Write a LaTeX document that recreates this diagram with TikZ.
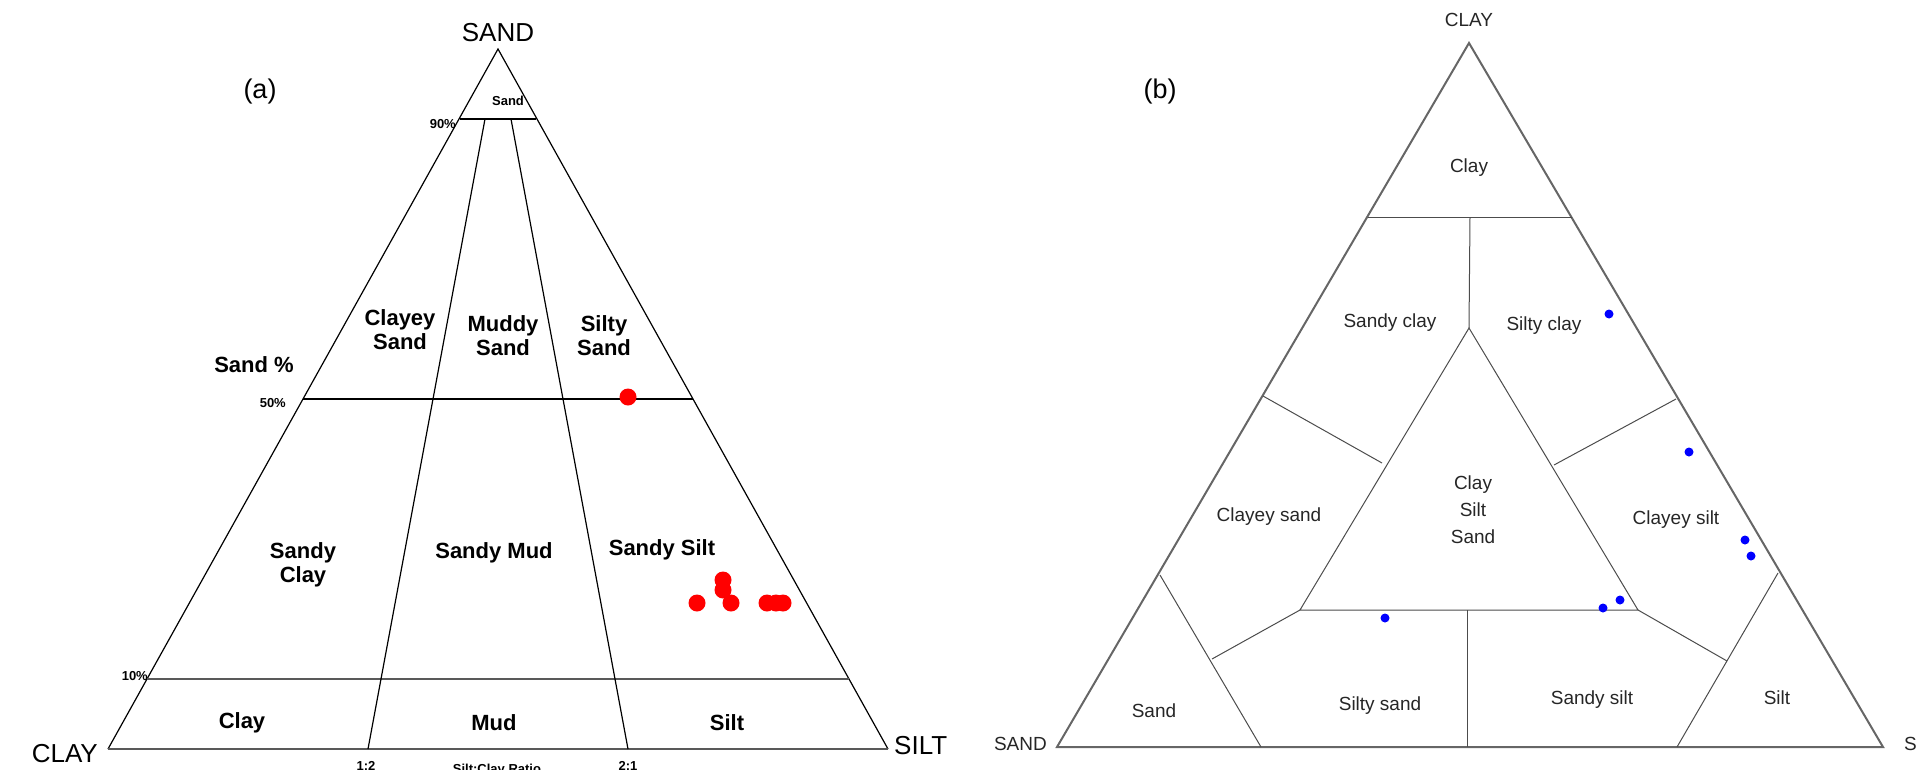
\documentclass[tikz,border=0pt]{standalone}
\usepackage{fontspec}
\setmainfont{Liberation Sans}
\begin{document}
\begin{tikzpicture}[x=1pt,y=-1pt,
  lab/.style={font=\fontsize{22}{24}\selectfont\bfseries,align=center,inner sep=0},
  small/.style={font=\fontsize{13}{14}\selectfont\bfseries,inner sep=0},
  big/.style={font=\fontsize{26}{28}\selectfont,inner sep=0},
  rlab/.style={font=\fontsize{19}{22}\selectfont,align=center,inner sep=0,text=black!85},
  thin/.style={line width=1pt,black!70},
  outer/.style={line width=2pt,black!60},
  rdot/.style={fill=red,draw=none},
  bdot/.style={fill=blue,draw=none}]
\useasboundingbox (0,0) rectangle (1923,769);
\clip (0,0) rectangle (1923,769);
% ---------- (a)
\coordinate (A) at (498,49); \coordinate (L) at (108,749); \coordinate (R) at (888,749);
\draw[line width=1.2pt] (L) -- (A) -- (R);
\draw[line width=2.2pt,black!65] (L) -- (R);
\draw[line width=1.2pt] (460,119) -- (536,119);
\draw[line width=1.2pt] (303,399) -- (693,399);
\draw[line width=2.2pt,black!65] (147,679) -- (849,679);
\draw[line width=1.2pt] (368,749) -- (485,119);
\draw[line width=1.2pt] (628,749) -- (511,119);
\node[big] at (498,33) {SAND};
\node[font=\fontsize{27}{29}\selectfont,inner sep=0] at (260,92) {(a)};
\node[small] at (508,101) {Sand};
\node[small,anchor=east] at (456,124) {90\%};
\node[small,anchor=east] at (286,403) {50\%};
\node[small,anchor=east] at (148,676) {10\%};
\node[lab] at (254,365) {Sand \%};
\node[lab] at (400,330) {Clayey\\Sand};
\node[lab] at (503,336) {Muddy\\Sand};
\node[lab] at (604,336) {Silty\\Sand};
\node[lab] at (303,565) {Sandy\\Clay};
\node[lab] at (494,553) {Sandy Mud};
\node[lab] at (662,550) {Sandy Silt};
\node[lab] at (242,723) {Clay};
\node[lab] at (494,723) {Mud};
\node[lab] at (727,723) {Silt};
\node[big,anchor=east] at (98,754) {CLAY};
\node[big,anchor=west] at (894,746) {SILT};
\node[small,anchor=north] at (366,761) {1:2};
\node[small,anchor=north] at (497,764) {Silt:Clay Ratio};
\node[small,anchor=north] at (628,761) {2:1};
\foreach \p in {(628,397),(697,603),(723,580),(723,590),(731,603),(767,603),(776,603),(783,603)}
  \fill[rdot] \p circle (8.5);
% ---------- (b)
\coordinate (B) at (1469,43); \coordinate (BL) at (1057,747); \coordinate (BR) at (1883,747);
\draw[outer] (BL) -- (B) -- (BR) -- cycle;
\draw[thin] (1368,217) -- (1572,217);
\draw[thin] (1470,217) -- (1469,328);
\draw[thin] (1469,328) -- (1300,610) -- (1638,610) -- cycle;
\draw[thin] (1160,575) -- (1261,747);
\draw[thin] (1778,573) -- (1677,747);
\draw[thin] (1212,659) -- (1300,610);
\draw[thin] (1727,661) -- (1638,610);
\draw[thin] (1467,610) -- (1467,747);
\draw[thin] (1263,396) -- (1382,463);
\draw[thin] (1676,399) -- (1554,465);
\node[rlab] at (1469,20) {CLAY};
\node[font=\fontsize{27}{29}\selectfont,inner sep=0] at (1160,92) {(b)};
\node[rlab] at (1469,168) {Clay};
\node[rlab] at (1390,323) {Sandy clay};
\node[rlab] at (1544,326) {Silty clay};
\node[rlab] at (1269,517) {Clayey sand};
\node[rlab,font=\fontsize{19}{27}\selectfont] at (1473,510) {Clay\\Silt\\Sand};
\node[rlab] at (1676,520) {Clayey silt};
\node[rlab] at (1154,711) {Sand};
\node[rlab] at (1380,706) {Silty sand};
\node[rlab] at (1592,700) {Sandy silt};
\node[rlab] at (1777,698) {Silt};
\node[rlab,anchor=east] at (1047,744) {SAND};
\node[rlab,anchor=west] at (1904,744) {S};
\foreach \p in {(1609,314),(1689,452),(1745,540),(1751,556),(1603,608),(1620,600),(1385,618)}
  \fill[bdot] \p circle (4.5);
\end{tikzpicture}
\end{document}
